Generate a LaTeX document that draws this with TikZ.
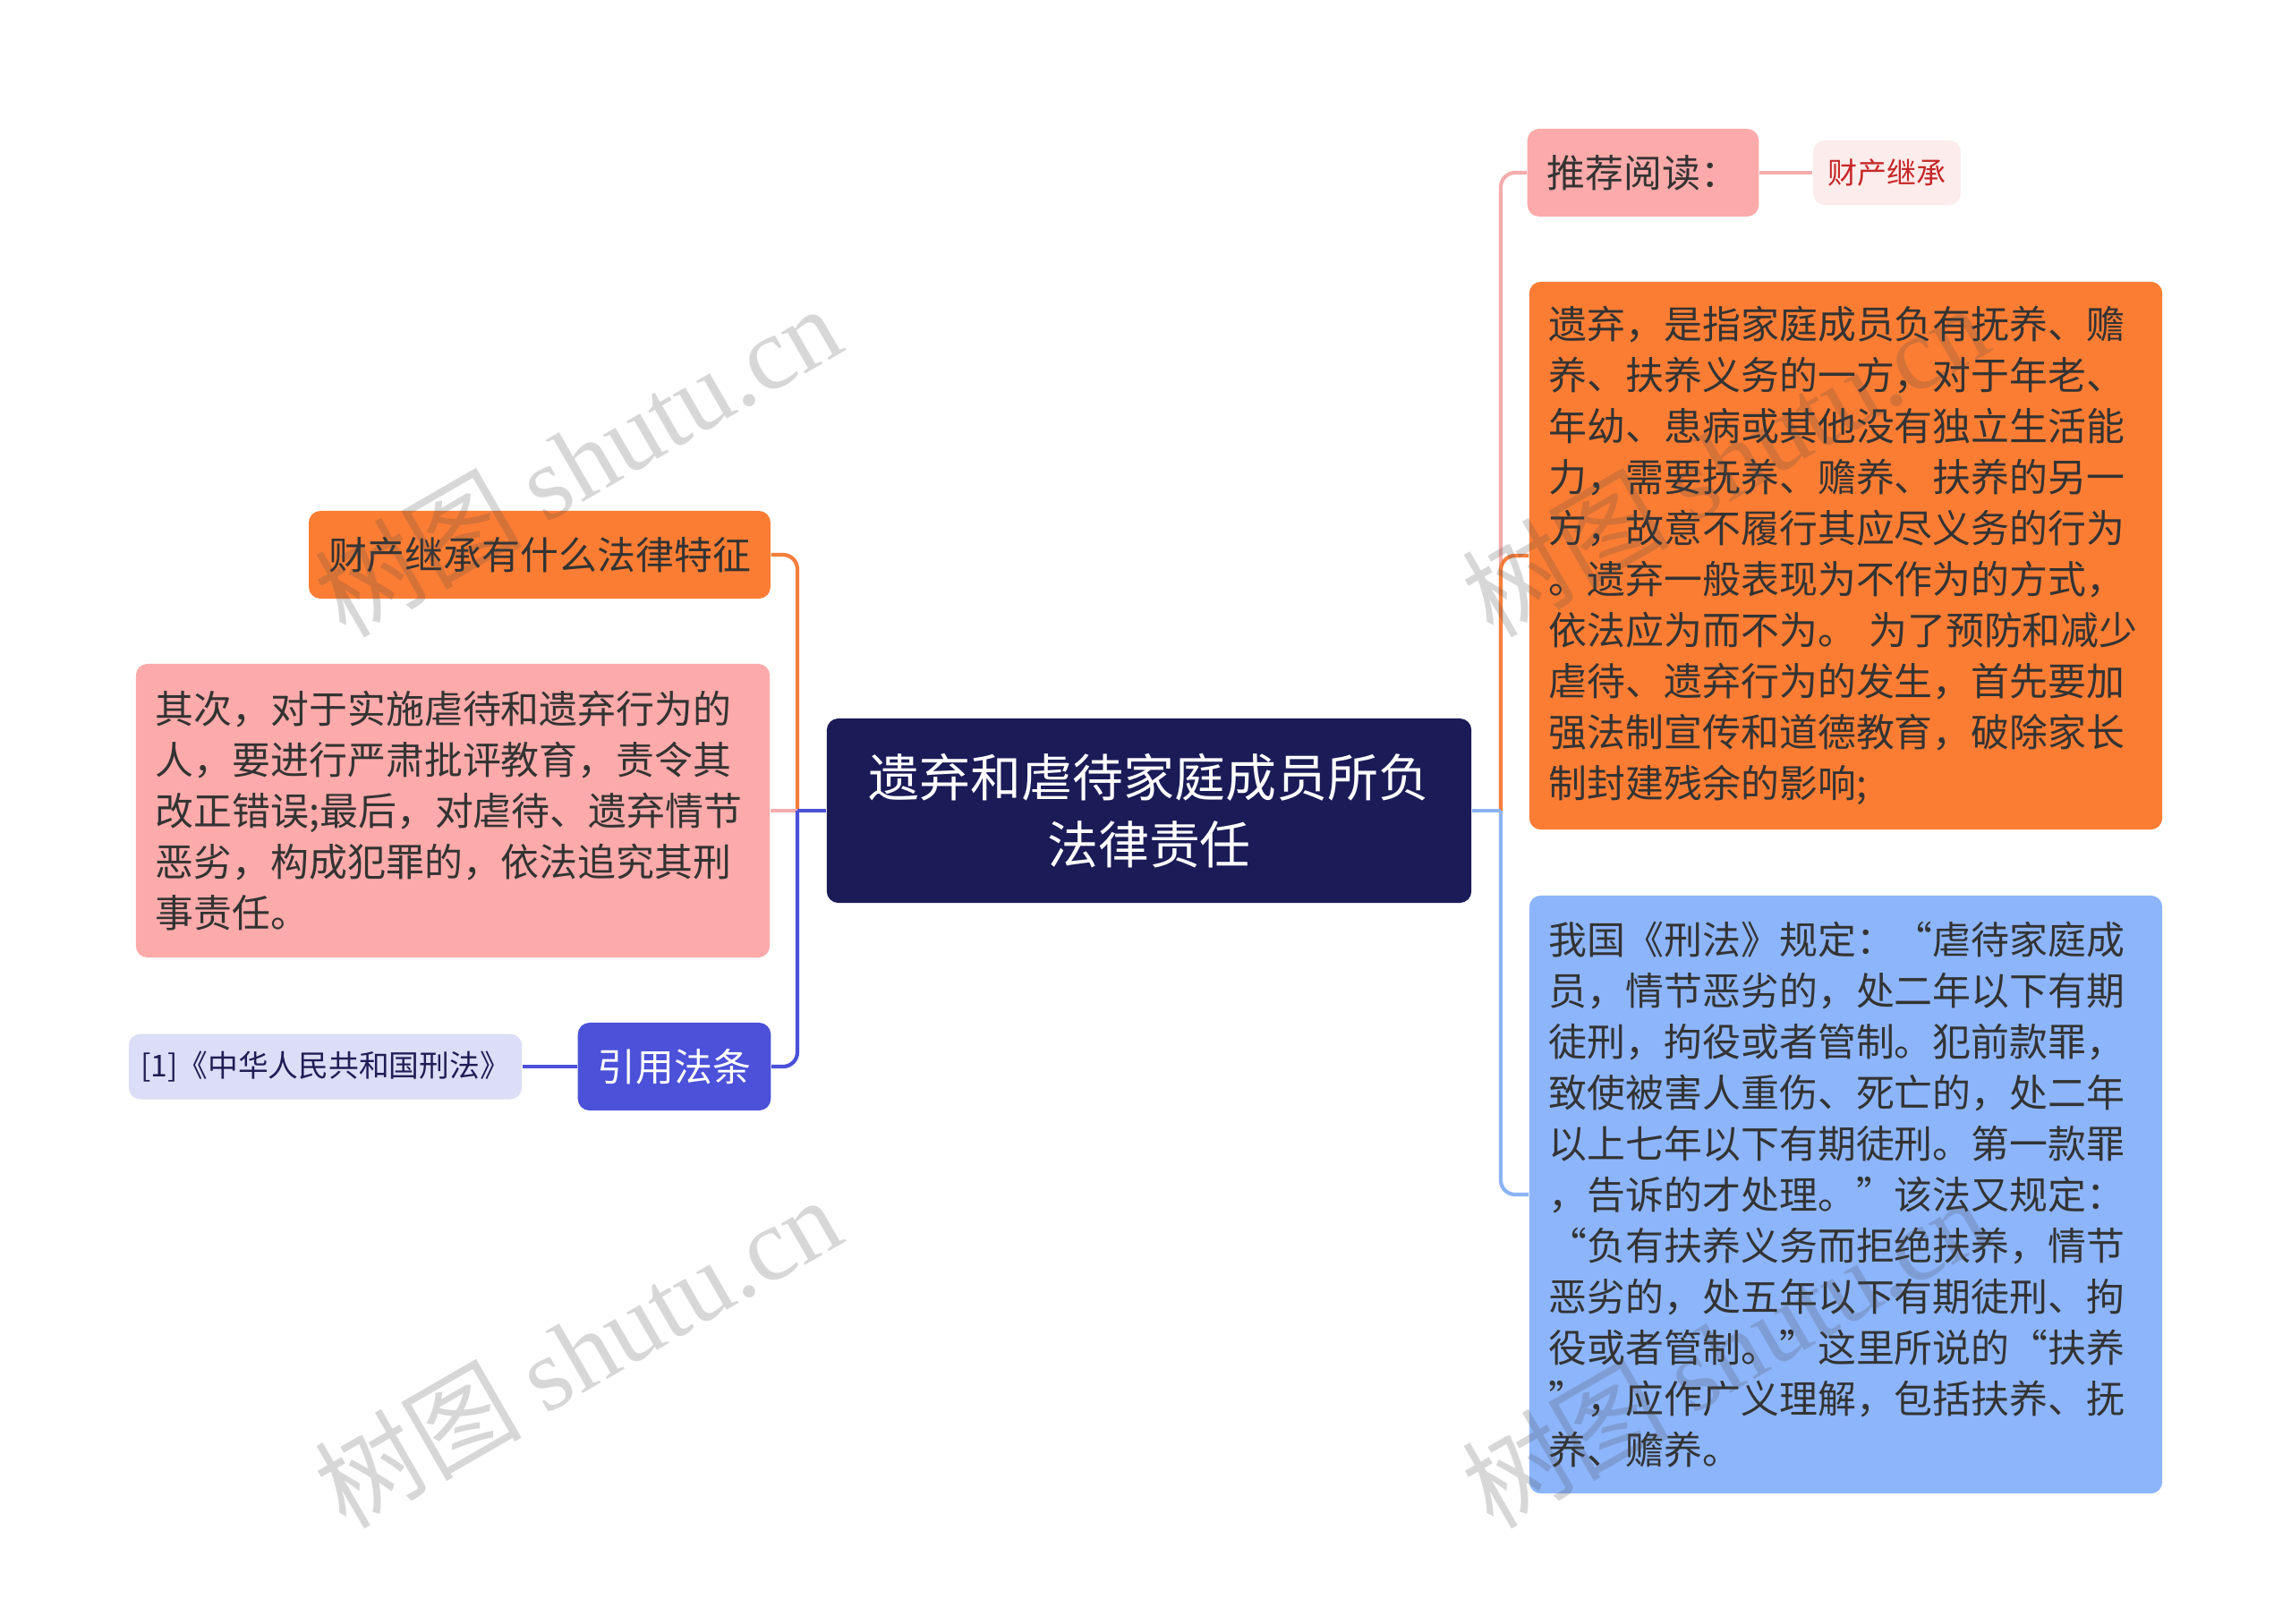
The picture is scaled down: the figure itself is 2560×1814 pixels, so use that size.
\documentclass[tikz,border=0pt]{standalone}
\usepackage{fontspec}
\setmainfont{Noto Sans CJK SC}
\newfontfamily\wmlatin{Liberation Serif}
\definecolor{cnavy}{HTML}{1B1B58}
\definecolor{corange}{HTML}{FB7D33}
\definecolor{cpink}{HTML}{FCAAAA}
\definecolor{cpalepink}{HTML}{FDECEC}
\definecolor{cblue}{HTML}{8DB5FB}
\definecolor{cindigo}{HTML}{4B51D8}
\definecolor{clavender}{HTML}{DCDDF6}
\definecolor{tdark}{HTML}{333333}
\definecolor{tred}{HTML}{C62828}
\definecolor{tnavy}{HTML}{1F1D55}
\definecolor{lpink}{HTML}{F5ACAC}
\definecolor{lorange}{HTML}{F47F3C}
\definecolor{lblue}{HTML}{8DB3F7}
\definecolor{lindigo}{HTML}{4B51D8}
\tikzset{
  base/.style={rounded corners=0.13cm, inner ysep=0pt, inner xsep=0.22cm},
  cbox/.style={base, fill=cnavy, text=white, align=center,
    font=\fontsize{16.2pt}{21.3pt}\selectfont, minimum width=7.2cm, minimum height=2.06cm},
  para/.style={base, text=tdark, align=left, text width=#1,
    font=\fontsize{12.2pt}{16.2pt}\selectfont},
  label12/.style={base, align=center, font=\fontsize{12.2pt}{16.2pt}\selectfont},
  conn/.style={line width=1.2pt},
  wm/.style={text=black!70, opacity=0.22, font=\fontsize{33pt}{40pt}\selectfont, rotate=30}
}
\begin{document}
\begin{tikzpicture}[x=0.01cm,y=-0.01cm]
\fill[white] (0,0) rectangle (2560,1814);
\useasboundingbox (0,0) rectangle (2560,1814);

% central
\node[cbox] (center) at (1284,906) {遗弃和虐待家庭成员所负\\法律责任};

% right side
\node[label12, fill=cpink, text=tdark, minimum width=2.54cm, minimum height=0.98cm] (rec) at (1836,193) {推荐阅读：};
\node[base, fill=cpalepink, text=tred, font=\fontsize{9.4pt}{12pt}\selectfont, minimum width=1.65cm, minimum height=0.72cm, inner xsep=0pt] (cc) at (2108.5,193) {财产继承};
\node[para=6.63cm, fill=corange, minimum height=6.12cm] (ob) at (2062.5,621) {遗弃，是指家庭成员负有抚养、赡\\
养、扶养义务的一方，对于年老、\\
年幼、患病或其他没有独立生活能\\
力，需要抚养、赡养、扶养的另一\\
方，故意不履行其应尽义务的行为\\
。遗弃一般表现为不作为的方式，\\
依法应为而不为。 为了预防和减少\\
虐待、遗弃行为的发生，首先要加\\
强法制宣传和道德教育，破除家长\\
制封建残余的影响;};
\node[para=6.63cm, fill=cblue, minimum height=6.68cm] (bb) at (2062.5,1335) {我国《刑法》规定：“虐待家庭成\\
员，情节恶劣的，处二年以下有期\\
徒刑，拘役或者管制。犯前款罪，\\
致使被害人重伤、死亡的，处二年\\
以上七年以下有期徒刑。第一款罪\\
，告诉的才处理。”该法又规定：\\
“负有扶养义务而拒绝扶养，情节\\
恶劣的，处五年以下有期徒刑、拘\\
役或者管制。”这里所说的“扶养\\
”，应作广义理解，包括扶养、抚\\
养、赡养。};

% left side
\node[label12, fill=corange, text=tdark, minimum width=5.14cm, minimum height=0.98cm] (lo) at (603,620) {财产继承有什么法律特征};
\node[para=6.64cm, fill=cpink, minimum height=3.28cm] (lp) at (506,906) {其次，对于实施虐待和遗弃行为的\\
人，要进行严肃批评教育，责令其\\
改正错误;最后，对虐待、遗弃情节\\
恶劣，构成犯罪的，依法追究其刑\\
事责任。};
\node[label12, fill=cindigo, text=white, minimum width=2.13cm, minimum height=0.98cm] (cite) at (753.5,1192) {引用法条};
\node[base, fill=clavender, text=tnavy, font=\fontsize{9.6pt}{12pt}\selectfont, minimum width=4.39cm, minimum height=0.73cm, inner xsep=0pt] (ref) at (363.5,1192) {[1]《中华人民共和国刑法》};

% junctions
\coordinate (rj) at (1677,906);
\coordinate (lj) at (891,906);

% right connectors
\draw[conn, lpink, rounded corners=0.16cm] (rj) |- (rec.west);
\draw[conn, lorange, rounded corners=0.16cm] (rj) |- (ob.west);
\draw[conn, lblue, rounded corners=0.16cm] (rj) |- (bb.west);
\draw[conn, lblue] (center.east) -- (rj);
\draw[conn, lpink] (rec.east) -- (cc.west);

% left connectors
\draw[conn, lorange, rounded corners=0.16cm] (lj) |- (lo.east);
\draw[conn, lpink] (lj) -- (lp.east);
\draw[conn, lindigo, rounded corners=0.16cm] (lj) |- (cite.east);
\draw[conn, lindigo] (center.west) -- (lj);
\draw[conn, lindigo] (cite.west) -- (ref.east);

% watermarks
\node[wm] (wm1) at (645,514) {树图 {\wmlatin shutu.cn}};
\node[wm] (wm2) at (645,1510) {树图 {\wmlatin shutu.cn}};
\node[wm] (wm3) at (1927,514) {树图 {\wmlatin shutu.cn}};
\node[wm] (wm4) at (1927,1510) {树图 {\wmlatin shutu.cn}};
\end{tikzpicture}
\end{document}
